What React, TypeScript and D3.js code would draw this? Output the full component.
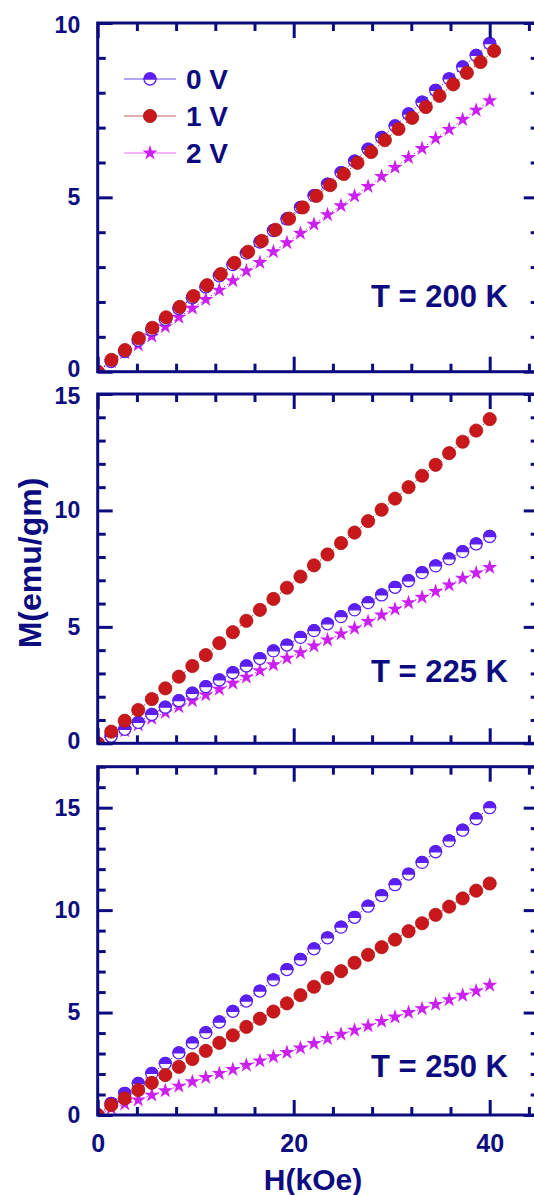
import React, { useEffect, useRef } from "react";
import * as d3 from "d3";

// applied field (kOe), shared by most curves
const fieldH = [0, 1.38, 2.76, 4.14, 5.52, 6.9, 8.28, 9.66, 11.03, 12.41, 13.79, 15.17, 16.55, 17.93, 19.31, 20.69, 22.07, 23.45, 24.83, 26.21, 27.59, 28.97, 30.34, 31.72, 33.1, 34.48, 35.86, 37.24, 38.62, 40];
// the 1 V run at 200 K was taken on a slightly wider field grid
const fieldH1V200 = [0, 1.4, 2.79, 4.19, 5.58, 6.98, 8.37, 9.77, 11.16, 12.56, 13.95, 15.35, 16.74, 18.14, 19.53, 20.93, 22.32, 23.72, 25.11, 26.51, 27.9, 29.3, 30.69, 32.09, 33.48, 34.88, 36.27, 37.67, 39.06, 40.45];

// M (emu/gm)
const m0V200 = [0, 0.29, 0.58, 0.9, 1.2, 1.5, 1.81, 2.12, 2.43, 2.75, 3.07, 3.4, 3.72, 4.05, 4.38, 4.71, 5.05, 5.38, 5.71, 6.04, 6.38, 6.72, 7.05, 7.39, 7.73, 8.07, 8.4, 8.74, 9.07, 9.41];
const m1V200 = [0, 0.34, 0.62, 0.96, 1.26, 1.56, 1.86, 2.17, 2.48, 2.8, 3.12, 3.44, 3.75, 4.07, 4.39, 4.71, 5.04, 5.35, 5.67, 5.99, 6.3, 6.64, 6.96, 7.28, 7.59, 7.91, 8.24, 8.57, 8.88, 9.2];
const m2V200 = [0, 0.29, 0.54, 0.77, 1.02, 1.29, 1.56, 1.82, 2.07, 2.34, 2.61, 2.89, 3.13, 3.44, 3.7, 3.97, 4.23, 4.5, 4.76, 5.04, 5.31, 5.6, 5.86, 6.14, 6.4, 6.69, 6.95, 7.23, 7.5, 7.77];

const m0V225 = [0, 0.3, 0.6, 0.9, 1.24, 1.55, 1.83, 2.15, 2.43, 2.72, 3.03, 3.32, 3.64, 3.97, 4.22, 4.55, 4.84, 5.13, 5.44, 5.73, 6.04, 6.37, 6.7, 6.98, 7.33, 7.62, 7.92, 8.23, 8.56, 8.88];
const m1V225 = [0, 0.5, 0.97, 1.43, 1.9, 2.36, 2.86, 3.32, 3.79, 4.3, 4.77, 5.26, 5.73, 6.2, 6.68, 7.16, 7.64, 8.11, 8.6, 9.05, 9.54, 10.03, 10.51, 11.0, 11.49, 11.96, 12.46, 12.95, 13.43, 13.92];
const m2V225 = [0, 0.28, 0.54, 0.79, 1.07, 1.32, 1.57, 1.83, 2.08, 2.32, 2.58, 2.84, 3.12, 3.37, 3.65, 3.89, 4.18, 4.44, 4.7, 4.94, 5.23, 5.51, 5.76, 6.04, 6.27, 6.52, 6.8, 7.09, 7.31, 7.55];

const m0V250 = [0, 0.57, 1.06, 1.54, 2.03, 2.52, 3.03, 3.52, 4.02, 4.54, 5.06, 5.56, 6.05, 6.6, 7.1, 7.59, 8.11, 8.65, 9.17, 9.65, 10.19, 10.71, 11.24, 11.76, 12.33, 12.85, 13.38, 13.9, 14.46, 15.0];
const m1V250 = [0, 0.49, 0.81, 1.22, 1.57, 1.95, 2.35, 2.73, 3.13, 3.52, 3.89, 4.3, 4.7, 5.05, 5.45, 5.85, 6.26, 6.68, 7.02, 7.43, 7.82, 8.19, 8.56, 8.97, 9.36, 9.77, 10.17, 10.57, 10.95, 11.3];
const m2V250 = [0, 0.33, 0.54, 0.73, 0.97, 1.18, 1.41, 1.62, 1.83, 2.03, 2.22, 2.43, 2.64, 2.84, 3.05, 3.27, 3.49, 3.73, 3.94, 4.14, 4.35, 4.57, 4.78, 5.0, 5.19, 5.4, 5.63, 5.84, 6.05, 6.33];

const seriesNames = ["0 V", "1 V", "2 V"];
const tempLabels = ["T = 200 K", "T = 225 K", "T = 250 K"];
const yMaxes = [10, 15, 17];
const yMajorTicks = [[0, 5, 10], [0, 5, 10, 15], [0, 5, 10, 15]];
const xMajorTicks = [0, 20, 40];

const NAVY = "#0c0c80";
const BLUE = "#5c1ff2";
const RED = "#c8181c";
const MAGENTA = "#cc20f2";
const FONT = "'Liberation Sans', Arial, sans-serif";

const W = 534;
const H = 1195;
const left = 97.7;
const right = 538.7;
const panelTops = [23, 394, 766.7];
const panelBottoms = [371.7, 743.3, 1115];
const labelBaselines = [306.7, 681.7, 1076.7];

const panels = [
  { fields: [fieldH, fieldH1V200, fieldH], values: [m0V200, m1V200, m2V200] },
  { fields: [fieldH, fieldH, fieldH], values: [m0V225, m1V225, m2V225] },
  { fields: [fieldH, fieldH, fieldH], values: [m0V250, m1V250, m2V250] },
];

const lineColors = [BLUE, RED, MAGENTA];
const legendLineColors = ["#6a4ff0", "#c06060", "#e070f0"];

function drawMarker(g: any, kind: number, x: number, y: number) {
  if (kind === 0) {
    const r = 6;
    g.append("circle").attr("cx", x).attr("cy", y).attr("r", r)
      .attr("fill", "white").attr("stroke", BLUE).attr("stroke-width", 1.3);
    g.append("path")
      .attr("d", `M${x - r},${y} A${r},${r} 0 0 1 ${x + r},${y} Z`)
      .attr("fill", BLUE).attr("stroke", BLUE).attr("stroke-width", 1.3);
  } else if (kind === 1) {
    g.append("circle").attr("cx", x).attr("cy", y).attr("r", 6.6)
      .attr("fill", RED).attr("stroke", "#b01418").attr("stroke-width", 0.8);
  } else {
    g.append("path")
      .attr("d", d3.symbol().type(d3.symbolStar).size(72)())
      .attr("transform", `translate(${x},${y})`)
      .attr("fill", MAGENTA);
  }
}

export default function App() {
  const ref = useRef<SVGSVGElement>(null);

  useEffect(() => {
    document.body.style.margin = "0";
    document.body.style.overflow = "hidden";
    const svg = d3.select(ref.current);
    svg.selectAll("*").remove();

    const x = d3.scaleLinear().domain([0, 45]).range([left, right]);

    panels.forEach((panel, pi) => {
      const top = panelTops[pi];
      const bottom = panelBottoms[pi];
      const y = d3.scaleLinear().domain([0, yMaxes[pi]]).range([bottom, top]);
      const g = svg.append("g");

      const clipId = `clip${pi}`;
      svg.append("clipPath").attr("id", clipId)
        .append("rect").attr("x", left).attr("y", top)
        .attr("width", right - left).attr("height", bottom - top);

      const plot = g.append("g").attr("clip-path", `url(#${clipId})`);

      // dotted connecting lines
      panel.values.forEach((vals, si) => {
        const pts = vals.map((v, i) => [panel.fields[si][i], v] as [number, number]);
        plot.append("path")
          .datum(pts)
          .attr("d", d3.line().x((d) => x(d[0])).y((d) => y(d[1])))
          .attr("fill", "none")
          .attr("stroke", lineColors[si])
          .attr("stroke-width", 1)
          .attr("stroke-dasharray", "1.5,2.5");
      });
      // markers: 2 V below, then 0 V, then 1 V on top
      [2, 0, 1].forEach((si) => {
        panel.values[si].forEach((v, i) => {
          drawMarker(plot, si, x(panel.fields[si][i]), y(v));
        });
      });

      const xMinor = d3.range(0, 45, 4).filter((d) => d % 20 !== 0);
      const yMinor = d3.range(0, yMaxes[pi] + 0.01, 1).filter((d) => d % 5 !== 0);

      const styleAxis = (sel: any) => {
        sel.select(".domain").remove();
        sel.selectAll("line").attr("stroke", NAVY).attr("stroke-width", 3);
        sel.selectAll("text")
          .attr("fill", NAVY)
          .attr("font-family", FONT)
          .attr("font-weight", "bold")
          .attr("font-size", "23px");
      };

      // left
      const ly = g.append("g").attr("transform", `translate(${left},0)`)
        .call(d3.axisLeft(y).tickValues(yMajorTicks[pi]).tickSize(-15).tickPadding(17.5).tickFormat(d3.format("d")))
        .call(styleAxis);
      // keep the stacked "0" / top labels of neighbouring panels apart
      ly.selectAll("text").attr("dy", (d: any) =>
        d === 0 && pi < panels.length - 1 ? "0.22em" : d === yMaxes[pi] || (pi === 1 && d === 15) ? "0.4em" : "0.32em");
      g.append("g").attr("transform", `translate(${left},0)`)
        .call(d3.axisLeft(y).tickValues(yMinor).tickSize(-8).tickFormat(() => ""))
        .call(styleAxis);
      // right
      g.append("g").attr("transform", `translate(${right},0)`)
        .call(d3.axisRight(y).tickValues(yMajorTicks[pi]).tickSize(-15).tickFormat(() => ""))
        .call(styleAxis);
      g.append("g").attr("transform", `translate(${right},0)`)
        .call(d3.axisRight(y).tickValues(yMinor).tickSize(-8).tickFormat(() => ""))
        .call(styleAxis);
      // top
      g.append("g").attr("transform", `translate(0,${top})`)
        .call(d3.axisTop(x).tickValues(xMajorTicks).tickSize(-15).tickFormat(() => ""))
        .call(styleAxis);
      g.append("g").attr("transform", `translate(0,${top})`)
        .call(d3.axisTop(x).tickValues(xMinor).tickSize(-8).tickFormat(() => ""))
        .call(styleAxis);
      // bottom
      const showX = pi === panels.length - 1;
      const bx = g.append("g").attr("transform", `translate(0,${bottom})`)
        .call(d3.axisBottom(x).tickValues(xMajorTicks).tickSize(-15).tickPadding(19)
          .tickFormat((d: any) => (showX ? String(d) : "")))
        .call(styleAxis);
      bx.selectAll("text").attr("font-size", "25px");
      g.append("g").attr("transform", `translate(0,${bottom})`)
        .call(d3.axisBottom(x).tickValues(xMinor).tickSize(-8).tickFormat(() => ""))
        .call(styleAxis);

      // frame
      g.append("rect")
        .attr("x", left).attr("y", top)
        .attr("width", right - left).attr("height", bottom - top)
        .attr("fill", "none").attr("stroke", NAVY).attr("stroke-width", 3);

      g.append("text")
        .attr("x", 508).attr("y", labelBaselines[pi])
        .attr("text-anchor", "end")
        .attr("fill", NAVY).attr("font-family", FONT)
        .attr("font-weight", "bold").attr("font-size", "31px")
        .text(tempLabels[pi]);

      if (pi === 0) {
        const legendY = [79, 116, 153];
        const lg = g.append("g");
        seriesNames.forEach((name, si) => {
          lg.append("line")
            .attr("x1", 124).attr("x2", 176)
            .attr("y1", legendY[si]).attr("y2", legendY[si])
            .attr("stroke", legendLineColors[si]).attr("stroke-width", 1.2);
          drawMarker(lg, si, 150, legendY[si]);
          lg.append("text")
            .attr("x", 186).attr("y", legendY[si] + 9.5)
            .attr("fill", NAVY).attr("font-family", FONT)
            .attr("font-weight", "bold").attr("font-size", "28px")
            .text(name);
        });
      }
    });

    svg.append("text")
      .attr("x", 313).attr("y", 1190)
      .attr("text-anchor", "middle")
      .attr("fill", NAVY).attr("font-family", FONT)
      .attr("font-weight", "bold").attr("font-size", "30px")
      .text("H(kOe)");

    svg.append("text")
      .attr("transform", "translate(41,563) rotate(-90)")
      .attr("text-anchor", "middle")
      .attr("fill", NAVY).attr("font-family", FONT)
      .attr("font-weight", "bold").attr("font-size", "32px")
      .text("M(emu/gm)");
  }, []);

  return <svg ref={ref} width={W} height={H} style={{ display: "block", background: "white" }} />;
}
